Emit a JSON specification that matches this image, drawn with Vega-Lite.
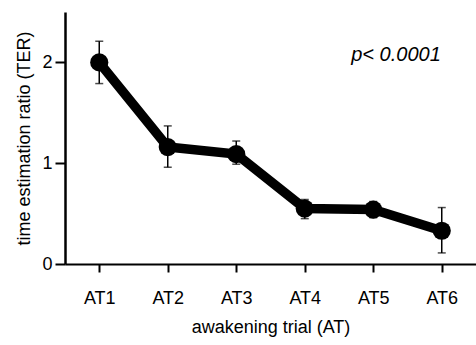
{
  "$schema": "https://vega.github.io/schema/vega-lite/v6.json",
  "autosize": {"type": "none"},
  "padding": {"left": 65, "top": 12, "right": 0, "bottom": 81},
  "width": 411,
  "height": 252,
  "background": "white",
  "config": {
    "view": {"stroke": null},
    "font": "Liberation Sans",
    "axis": {"grid": false, "domainColor": "black", "tickColor": "black", "labelColor": "black", "titleColor": "black", "labelFont": "Liberation Sans", "titleFont": "Liberation Sans", "titleFontWeight": "normal"},
    "axisX": {"labelAngle": 0, "labelFontSize": 18, "titleFontSize": 18, "tickSize": 8, "tickWidth": 2, "domainWidth": 2, "labelPadding": 17, "titlePadding": 11},
    "axisY": {"labelFontSize": 18, "titleFontSize": 18, "tickSize": 10, "tickWidth": 2, "domainWidth": 2.5, "labelPadding": 3, "titlePadding": 8, "format": "d"}
  },
  "data": {
    "values": [
      {"trial": "AT1", "ter": 2.0, "low": 1.79, "high": 2.21},
      {"trial": "AT2", "ter": 1.16, "low": 0.96, "high": 1.37},
      {"trial": "AT3", "ter": 1.09, "low": 0.99, "high": 1.22},
      {"trial": "AT4", "ter": 0.55, "low": 0.45, "high": 0.64},
      {"trial": "AT5", "ter": 0.54, "low": 0.46, "high": 0.62},
      {"trial": "AT6", "ter": 0.33, "low": 0.11, "high": 0.56}
    ]
  },
  "encoding": {
    "x": {
      "field": "trial", "type": "ordinal",
      "scale": {"type": "point", "padding": 0.5},
      "title": "awakening trial (AT)"
    }
  },
  "layer": [
    {
      "mark": {"type": "line", "color": "black", "strokeWidth": 9.5},
      "encoding": {
        "y": {
          "field": "ter", "type": "quantitative",
          "scale": {"domain": [0, 2.5], "nice": false},
          "axis": {"values": [0, 1, 2]},
          "title": "time estimation ratio (TER)"
        }
      }
    },
    {
      "mark": {"type": "circle", "color": "black", "opacity": 1, "size": 330},
      "encoding": {"y": {"field": "ter", "type": "quantitative", "title": "time estimation ratio (TER)"}}
    },
    {
      "mark": {"type": "errorbar", "color": "black", "thickness": 1.5, "ticks": {"size": 8, "thickness": 1.5, "color": "black"}},
      "encoding": {
        "y": {"field": "low", "type": "quantitative", "title": "time estimation ratio (TER)"},
        "y2": {"field": "high"}
      }
    },
    {
      "data": {"values": [{"label": "p< 0.0001"}]},
      "mark": {"type": "text", "align": "left", "baseline": "alphabetic", "fontStyle": "italic", "fontSize": 20, "dx": -22, "dy": -1, "color": "black"},
      "encoding": {
        "x": {"datum": "AT5"},
        "y": {"datum": 2.0},
        "text": {"field": "label"}
      }
    }
  ]
}
